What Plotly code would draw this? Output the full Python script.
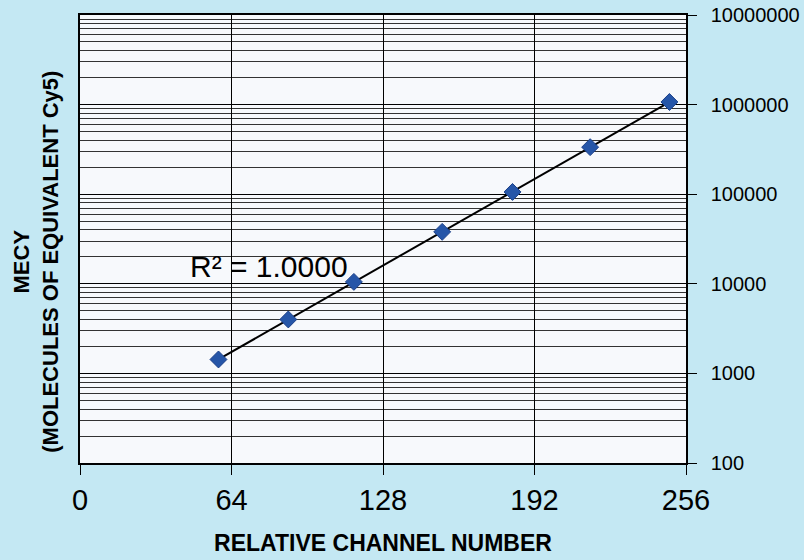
import numpy as np
import plotly.graph_objects as go

channel = [58.5, 88, 115.7, 153, 182.7, 215.5, 249]
mecy = [1430, 4000, 10500, 38000, 106000, 335000, 1070000]
x_ticks = [0, 64, 128, 192, 256]
y_ticks = [100, 1000, 10000, 100000, 1000000, 10000000]
y_labels = [str(v) for v in y_ticks]

# exponential trendline (linear fit in log space)
coef = np.polyfit(channel, np.log10(mecy), 1)
fit_x = [channel[0], channel[-1]]
fit_y = [10 ** np.polyval(coef, v) for v in fit_x]

fig = go.Figure()
fig.add_trace(go.Scatter(x=fit_x, y=fit_y, mode="lines",
                         line=dict(color="black", width=2), showlegend=False))
fig.add_trace(go.Scatter(x=channel, y=mecy, mode="markers",
                         marker=dict(symbol="diamond", size=13, color="#2656a8",
                                     line=dict(color="#1a3f88", width=1)),
                         showlegend=False))

fig.update_layout(
    width=804, height=560,
    paper_bgcolor="#c4e8f3",
    plot_bgcolor="#f7f9fc",
    margin=dict(l=80, r=118, t=15, b=97, autoexpand=False),
    font=dict(family="Arial, Liberation Sans, sans-serif", color="black"),
    xaxis=dict(range=[0, 256], tickvals=x_ticks, ticks="outside", ticklen=10,
               tickcolor="black", tickfont=dict(size=29), showline=True,
               linecolor="black", linewidth=1.5, mirror=True,
               showgrid=True, gridcolor="black", gridwidth=1, zeroline=False,
               automargin=False,
               title=dict(text="<b>RELATIVE CHANNEL NUMBER</b>",
                          font=dict(size=23), standoff=20)),
    yaxis=dict(type="log", range=[2, 7], side="right", tickvals=y_ticks,
               ticktext=y_labels, ticks="outside", ticklen=9, tickcolor="black",
               tickfont=dict(size=20), ticklabelstandoff=10, showline=True,
               linecolor="black", linewidth=1.5, mirror=True, showgrid=True,
               gridcolor="black", gridwidth=1, automargin=False,
               minor=dict(dtick="D1", showgrid=True, gridcolor="#333333",
                          gridwidth=1, ticks="")),
    annotations=[
        dict(text="<b>MECY<br>(MOLECULES OF EQUIVALENT Cy5)</b>",
             xref="paper", yref="paper", x=-0.072, y=0.45, textangle=-90,
             showarrow=False, font=dict(size=22), align="center",
             xanchor="center", yanchor="middle"),
        dict(text="R² = 1.0000", xref="x", yref="y", x=80, y=4.19,
             showarrow=False, font=dict(size=30), bgcolor="rgba(0,0,0,0)"),
    ],
)

fig.write_html("out.html", config={"displayModeBar": False},
               post_script="document.body.style.margin='0px';")
